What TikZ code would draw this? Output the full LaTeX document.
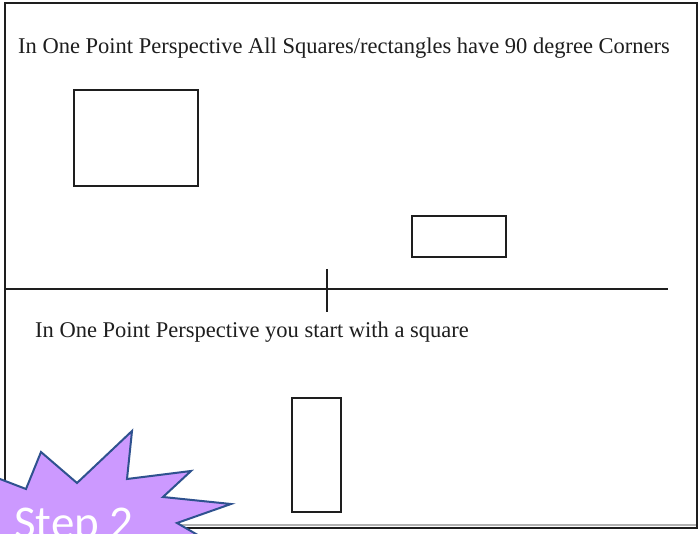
\documentclass[tikz,border=0pt]{standalone}
\usepackage{fontspec}
\setmainfont{Liberation Serif}
\newfontfamily\stepfont{Carlito}
\definecolor{burstfill}{RGB}{204,153,255}
\definecolor{burstline}{RGB}{47,82,143}
\definecolor{inkcol}{RGB}{30,30,30}
\tikzset{
  sketchbox/.style={draw=inkcol, line width=2pt},
  caption/.style={anchor=base west, inner sep=0pt, text=inkcol, font=\fontsize{22.5}{26}\selectfont},
}
\begin{document}
\begin{tikzpicture}[x=1pt,y=-1pt]
\useasboundingbox (0,0) rectangle (699,534);
\clip (0,0) rectangle (699,534);
\fill[white] (0,0) rectangle (699,534);
% frame
\draw[gray!60, line width=2pt] (5,524.5) -- (697,524.5);
\draw[inkcol, line width=2pt] (5,3) rectangle (697,527.5);
% captions
\node[caption] (t1) at (18,54) {In One Point Perspective All Squares/rectangles have 90 degree Corners};
\node[caption] (t2) at (35,338) {In One Point Perspective you start with a square};
% rectangles
\draw[sketchbox] (74,90) rectangle (198,186);
\draw[sketchbox] (412,216) rectangle (506,257);
\draw[sketchbox] (292,398) rectangle (341,512);
% horizon line and vanishing point tick
\coordinate (hl) at (5,289);
\coordinate (hr) at (668,289);
\coordinate (vt) at (327,269);
\coordinate (vb) at (327,312);
\draw[inkcol, line width=2pt] (hl) -- (hr);
\draw[inkcol, line width=2pt] (vt) -- (vb);
% starburst
\draw[fill=burstfill, draw=burstline, line width=2pt, line join=miter]
  (-20,472) -- (0,479) -- (26,489) -- (41,452) -- (77,483) -- (132,431) -- (127,479)
  -- (191,471) -- (163,497) -- (231,504) -- (177,523) -- (215,545) -- (-20,545) -- cycle;
\node[anchor=base west, inner sep=0pt, text=white, font=\stepfont\fontsize{47}{50}\selectfont] (s2) at (14,538) {Step 2};
\end{tikzpicture}
\end{document}
